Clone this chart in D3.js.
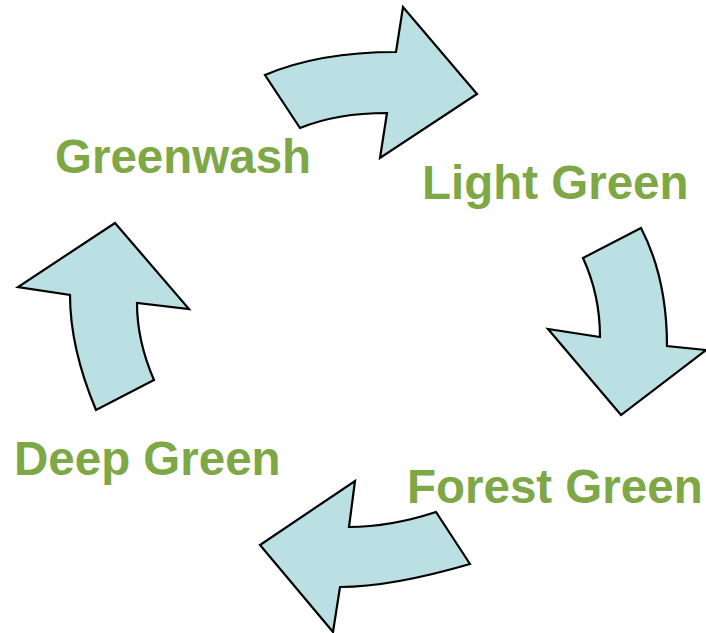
<!DOCTYPE html>
<html>
<head>
<meta charset="utf-8">
<script src="https://cdn.jsdelivr.net/npm/d3@7"></script>
<style>
  html, body { margin: 0; padding: 0; background: #fff; }
  svg { display: block; }
</style>
</head>
<body>
<svg id="chart" width="706" height="633"></svg>
<script>
// Cycle stages (in order, clockwise)
const stages = ["Greenwash", "Light Green", "Forest Green", "Deep Green"];

// Layout: label anchor points (left/baseline)
const labelPos = [[55, 173], [422, 199], [407, 503], [14, 475]];

// Arrow outlines: tail outer, curve to head base, barbs, tip, notch, curve back
const arrows = [
  { // top: Greenwash -> Light Green
    a: [265, 75], c1: [319, 52], b: [396, 52], barb1: [403, 7], tip: [477, 94],
    barb2: [380, 158], n: [387, 113], c2: [337, 113], e: [300, 128]
  },
  { // right: Light Green -> Forest Green
    a: [641, 228], c1: [667, 278], b: [667, 346], barb1: [706, 350], tip: [621, 415],
    barb2: [548, 329], n: [600, 337], c2: [600, 295], e: [583, 258]
  },
  { // bottom: Forest Green -> Deep Green
    a: [470, 564], c1: [391, 587], b: [340, 587], barb1: [333, 632], tip: [260, 545],
    barb2: [355, 481], n: [349, 527], c2: [390, 527], e: [436, 512]
  },
  { // left: Deep Green -> Greenwash
    a: [96, 410], c1: [70, 348], b: [70, 295], barb1: [18, 287], tip: [115, 223],
    barb2: [189, 309], n: [137, 303], c2: [137, 341], e: [154, 380]
  }
];

const svg = d3.select("#chart");

function arrowPath(d) {
  const p = d3.path();
  p.moveTo(...d.a);
  p.quadraticCurveTo(...d.c1, ...d.b);
  p.lineTo(...d.barb1);
  p.lineTo(...d.tip);
  p.lineTo(...d.barb2);
  p.lineTo(...d.n);
  p.quadraticCurveTo(...d.c2, ...d.e);
  p.closePath();
  return p.toString();
}

svg.selectAll("path.arrow")
  .data(arrows)
  .join("path")
  .attr("class", "arrow")
  .attr("d", arrowPath)
  .attr("fill", "#BBE0E3")
  .attr("stroke", "#000")
  .attr("stroke-width", 2.2)
  .attr("stroke-linejoin", "miter");

svg.selectAll("text.stage")
  .data(stages)
  .join("text")
  .attr("class", "stage")
  .attr("x", (d, i) => labelPos[i][0])
  .attr("y", (d, i) => labelPos[i][1])
  .attr("font-family", "'Liberation Sans', Arial, sans-serif")
  .attr("font-weight", "bold")
  .attr("font-size", 47.5)
  .attr("fill", "#7EA746")
  .text(d => d);
</script>
</body>
</html>
